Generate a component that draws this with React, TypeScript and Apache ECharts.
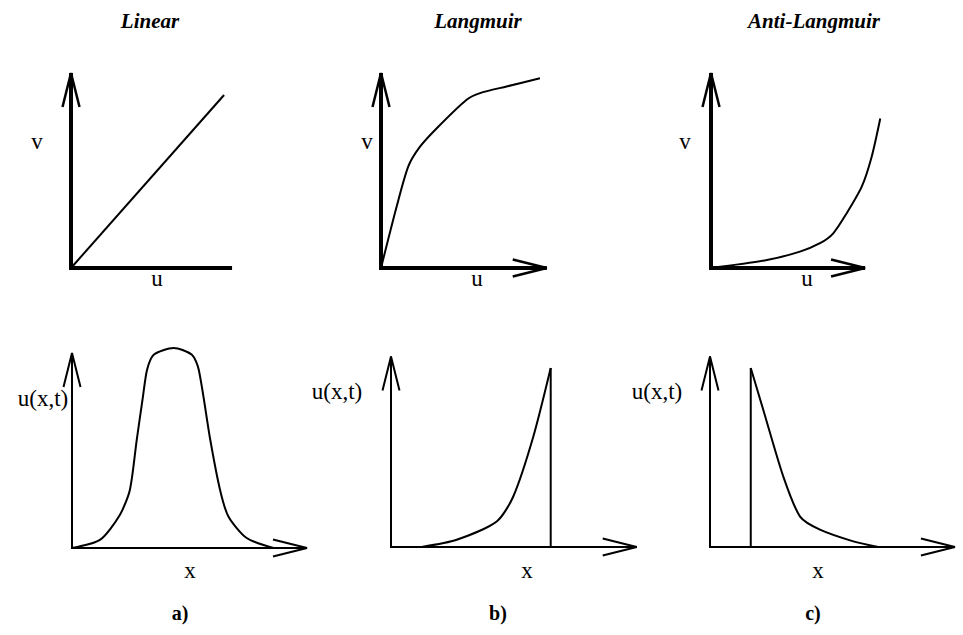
import React, { useEffect, useRef } from "react";
import * as echarts from "echarts";

// Column headings and panel tags
const titles = ["Linear", "Langmuir", "Anti-Langmuir"];
const panelTags = ["a)", "b)", "c)"];

// Adsorption isotherms v(u)
const linearIsotherm = [
  [0, 0],
  [7.85, 8.87],
];
const langmuirIsotherm = [
  [0, 0],
  [0.8, 3.14],
  [1.4, 5.21],
  [2.0, 6.22],
  [2.86, 7.17],
  [4.39, 8.63],
  [5.08, 8.97],
  [6.44, 9.31],
  [8.15, 9.73],
];
const antiLangmuirIsotherm = [
  [0, 0],
  [2.87, 0.41],
  [4.56, 0.84],
  [5.59, 1.27],
  [6.27, 1.78],
  [6.96, 2.81],
  [7.73, 4.17],
  [8.24, 5.71],
  [8.68, 7.67],
];

// Concentration profiles u(x,t)
const linearProfile = [
  [0, 0],
  [1.45, 0.43],
  [2.46, 1.71],
  [2.97, 2.99],
  [3.32, 5.55],
  [3.64, 7.78],
  [3.85, 9.14],
  [4.19, 9.91],
  [5.21, 10.26],
  [6.15, 9.91],
  [6.5, 9.14],
  [7.09, 5.55],
  [7.59, 2.99],
  [8.02, 1.62],
  [8.96, 0.51],
  [10.33, 0.0],
];
const langmuirProfile = [
  [1.57, 0],
  [3.37, 0.37],
  [5.42, 1.31],
  [6.27, 2.59],
  [7.3, 5.67],
  [8.19, 9.18],
];
const langmuirShock = [
  [8.19, 0],
  [8.19, 9.18],
];
const antiLangmuirProfile = [
  [2.09, 9.18],
  [2.73, 7.04],
  [3.76, 3.61],
  [4.62, 1.56],
  [5.64, 0.89],
  [7.35, 0.29],
  [8.63, 0],
];
const antiLangmuirShock = [
  [2.09, 0],
  [2.09, 9.18],
];

// Axis extents per panel: [x end, y end, arrow on x (1/0)]
const isothermAxes = [
  [8.26, 10, 0],
  [8.5, 10, 1],
  [7.9, 10, 1],
];
const profileAxes = [
  [12.05, 10, 1],
  [12.6, 9.77, 1],
  [12.56, 9.77, 1],
];

// ---- layout ----
const PPU = 19.5; // pixels per data unit
const X_RANGE = 12.8;
const Y_RANGE = 10.8;
const topOrigins = [
  [71, 268],
  [381, 268],
  [711, 268],
];
const bottomOrigins = [
  [72, 548],
  [391, 547],
  [710, 547],
];
const FONT = '"Liberation Serif", "Times New Roman", serif';

export default function App() {
  const ref = useRef<HTMLDivElement>(null);

  useEffect(() => {
    if (!ref.current) return;
    const chart = echarts.init(ref.current, undefined, { renderer: "svg" });

    const origins = [...topOrigins, ...bottomOrigins];
    const grids = origins.map(([ox, oy]) => ({
      left: ox,
      top: oy - Y_RANGE * PPU,
      width: X_RANGE * PPU,
      height: Y_RANGE * PPU,
    }));
    const xAxes = origins.map((_, i) => ({
      type: "value",
      gridIndex: i,
      min: 0,
      max: X_RANGE,
      show: false,
    }));
    const yAxes = origins.map((_, i) => ({
      type: "value",
      gridIndex: i,
      min: 0,
      max: Y_RANGE,
      show: false,
    }));

    const curve = (idx: number, data: number[][], smooth: number | boolean, width = 2) => ({
      type: "line",
      xAxisIndex: idx,
      yAxisIndex: idx,
      data,
      smooth,
      symbol: "none",
      clip: false,
      silent: true,
      lineStyle: { color: "#000", width },
    });

    const axisSeries = (idx: number, ends: number[], axisW: number, arrowW: number) => ({
      type: "custom",
      xAxisIndex: idx,
      yAxisIndex: idx,
      data: [ends],
      silent: true,
      clip: false,
      renderItem: (_params: any, api: any) => {
        const xEnd = api.value(0);
        const yEnd = api.value(1);
        const arrowX = api.value(2);
        const o = api.coord([0, 0]);
        const xe = api.coord([xEnd, 0]);
        const ye = api.coord([0, yEnd]);
        const L = 34;
        const H = 8.5;
        const children: any[] = [
          {
            type: "line",
            shape: { x1: o[0] - axisW / 2, y1: o[1], x2: xe[0], y2: xe[1] },
            style: { stroke: "#000", lineWidth: axisW, fill: null },
          },
          {
            type: "line",
            shape: { x1: o[0], y1: o[1] + axisW / 2, x2: ye[0], y2: ye[1] },
            style: { stroke: "#000", lineWidth: axisW, fill: null },
          },
          {
            type: "polyline",
            shape: {
              points: [
                [ye[0] - H, ye[1] + L],
                [ye[0], ye[1]],
                [ye[0] + H, ye[1] + L],
              ],
            },
            style: { stroke: "#000", lineWidth: arrowW, fill: null, lineJoin: "miter" },
          },
        ];
        if (arrowX) {
          children.push({
            type: "polyline",
            shape: {
              points: [
                [xe[0] - L, xe[1] - H],
                [xe[0], xe[1]],
                [xe[0] - L, xe[1] + H],
              ],
            },
            style: { stroke: "#000", lineWidth: arrowW, fill: null, lineJoin: "miter" },
          });
        }
        return { type: "group", children };
      },
    });

    const series: any[] = [
      ...isothermAxes.map((e, i) => axisSeries(i, e, 4, 2.5)),
      ...profileAxes.map((e, i) => axisSeries(i + 3, e, 2, 2)),
      curve(0, linearIsotherm, false),
      curve(1, langmuirIsotherm, 0.25),
      curve(2, antiLangmuirIsotherm, 0.25),
      curve(3, linearProfile, 0.25),
      curve(4, langmuirProfile, 0.25),
      curve(4, langmuirShock, false),
      curve(5, antiLangmuirProfile, 0.25),
      curve(5, antiLangmuirShock, false),
    ];

    const text = (t: string, x: number, y: number, font: string) => ({
      type: "text",
      silent: true,
      style: {
        text: t,
        x,
        y,
        font,
        fill: "#000",
        textAlign: "center",
        textVerticalAlign: "middle",
      },
    });

    const titleX = [150, 478, 814];
    const tagX = [180, 498, 813];
    const vX = [37, 367, 685];
    const uX = [157, 477, 807];
    const uxtX = [43, 337, 657];
    const uxtY = [398, 391, 391];
    const xX = [190, 527, 818];
    const labelFont = `23px ${FONT}`;
    const headFont = `bold italic 21px ${FONT}`;
    const tagFont = `bold 20px ${FONT}`;

    const graphic: any[] = [];
    titles.forEach((t, i) => graphic.push(text(t, titleX[i], 21, headFont)));
    panelTags.forEach((t, i) => graphic.push(text(t, tagX[i], 613, tagFont)));
    for (let i = 0; i < 3; i++) {
      graphic.push(text("v", vX[i], 141, labelFont));
      graphic.push(text("u", uX[i], 278, labelFont));
      graphic.push(text("u(x,t)", uxtX[i], uxtY[i], labelFont));
      graphic.push(text("x", xX[i], 570, labelFont));
    }

    chart.setOption({
      animation: false,
      backgroundColor: "#fff",
      grid: grids,
      xAxis: xAxes,
      yAxis: yAxes,
      series,
      graphic,
    });

    return () => chart.dispose();
  }, []);

  return (
    <div
      ref={ref}
      style={{ position: "fixed", left: 0, top: 0, width: 963, height: 635, background: "#fff" }}
    />
  );
}
